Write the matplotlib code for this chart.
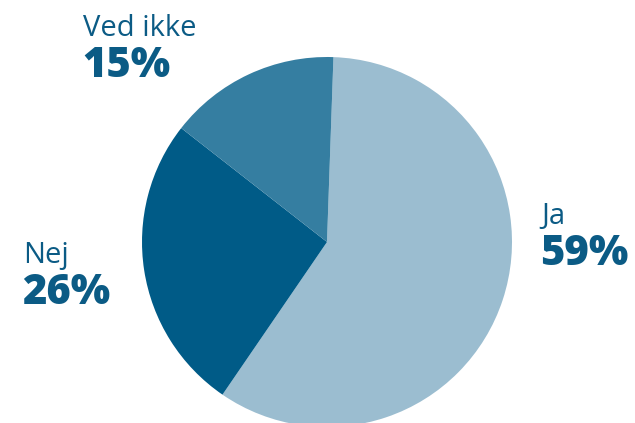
import matplotlib
matplotlib.use('Agg')
import matplotlib.pyplot as plt

# Data
labels = ['Ja', 'Nej', 'Ved ikke']
values = [59, 26, 15]
colors = ['#9bbdd0', '#005b87', '#357ea1']
text_color = '#0b5b85'

W, H = 635, 423
fig = plt.figure(figsize=(W / 100, H / 100), dpi=100)
ax = fig.add_axes([0, 0, 1, 1])

ax.pie(values, colors=colors, startangle=88, counterclock=False,
       center=(327, H - 242), radius=185, frame=True,
       wedgeprops=dict(linewidth=0))
ax.set_xlim(0, W)
ax.set_ylim(0, H)
ax.set_aspect('equal')
ax.axis('off')

# label positions (left, baseline of name) in pixel coords from the top
label_pos = {'Ja': (541, 224), 'Nej': (23, 263), 'Ved ikke': (83, 36)}
for lab, val in zip(labels, values):
    x, y = label_pos[lab]
    ax.text(x, H - y, lab, fontsize=21, color=text_color, family='Open Sans',
            ha='left', va='baseline')
    ax.text(x - 1, H - y - 41, f'{val}%', fontsize=30, fontweight='heavy',
            color=text_color, family='Open Sans', ha='left', va='baseline')

fig.savefig('out.png', dpi=100)
